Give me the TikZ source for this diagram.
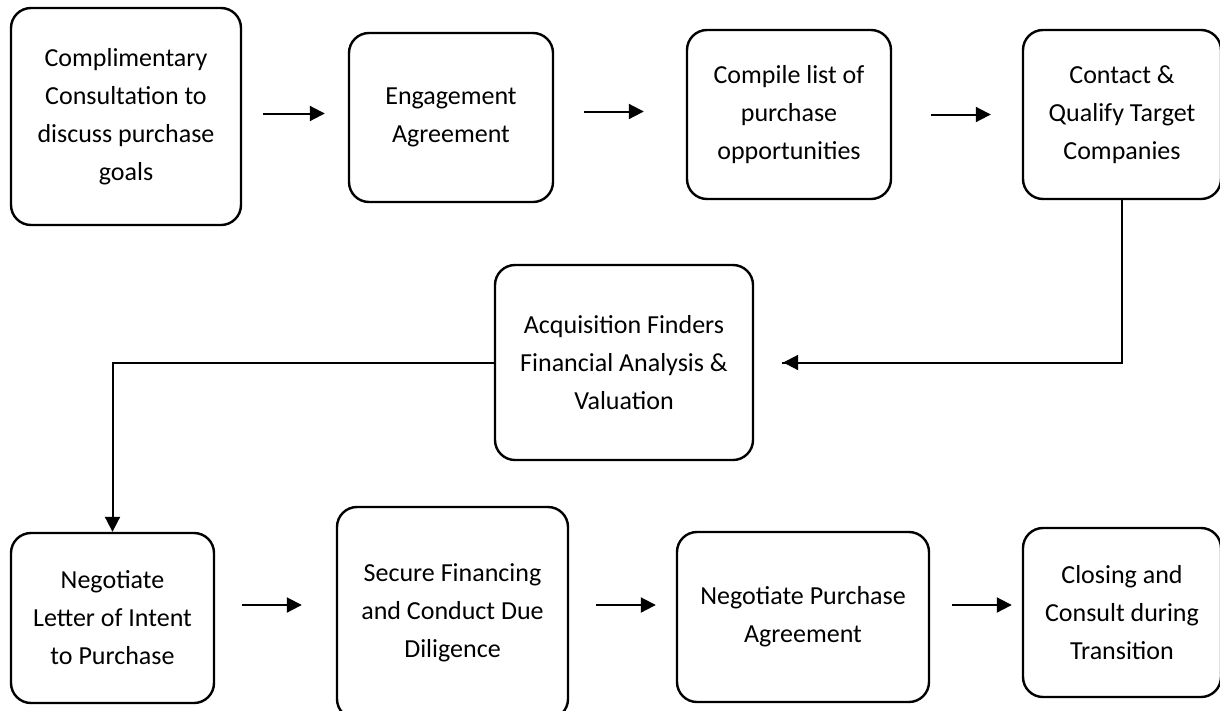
\documentclass[tikz,border=0pt]{standalone}
\usepackage{fontspec}
\setmainfont{Carlito}
\usetikzlibrary{arrows.meta}
\tikzset{
  stepbox/.style={draw, line width=2.4pt, rounded corners=20pt, align=center,
    inner sep=0pt, font=\fontsize{26pt}{38pt}\selectfont},
  flow/.style={line width=2pt, -{Triangle[length=15pt,width=15pt]}}
}
\begin{document}
\begin{tikzpicture}[x=1pt,y=-1pt]
      \useasboundingbox (0,0) rectangle (1220,710);
      \draw
        (126,116.5) node[stepbox, minimum width=230, minimum height=217] (consult){Complimentary\\Consultation to\\discuss purchase\\goals}
        (451,117.5) node[stepbox, minimum width=204, minimum height=169] (engage){Engagement\\Agreement}
        (789,114.5) node[stepbox, minimum width=204, minimum height=169] (compile){Compile list of\\purchase\\opportunities}
        (1122,114.5) node[stepbox, minimum width=198, minimum height=169] (contact){Contact \&\\Qualify Target\\Companies}
        (624,362.5) node[stepbox, minimum width=258, minimum height=195] (analysis){Acquisition Finders\\Financial Analysis \&\\Valuation}
        (112.5,618) node[stepbox, minimum width=203, minimum height=170] (loi){Negotiate\\Letter of Intent\\to Purchase}
        (452.5,613) node[stepbox, minimum width=231, minimum height=212] (finance){Secure Financing\\and Conduct Due\\Diligence}
        (803,617) node[stepbox, minimum width=252, minimum height=170] (purchase){Negotiate Purchase\\Agreement}
        (1122,612.5) node[stepbox, minimum width=198, minimum height=169] (closing){Closing and\\Consult during\\Transition};
      \begin{scope}[flow]
        \draw[shorten <=21pt, shorten >=23pt] ([yshift=3pt]consult.east) to ([yshift=3pt]consult.east -| engage.west);
        \draw[shorten <=30pt, shorten >=42pt] ([yshift=6pt]engage.east) to ([yshift=6pt]engage.east -| compile.west);
        \draw[shorten <=39pt, shorten >=31pt] (compile.east) to (compile.east -| contact.west);
        \draw[-, shorten >=-1pt] (contact.south) |- ([xshift=29pt]analysis.east);
        \draw[shorten >=29pt] ([xshift=29pt]analysis.east) to (analysis.east);
        \draw (analysis.west) -| (loi.north);
        \draw[shorten <=27pt, shorten >=34pt] ([yshift=13pt]loi.east) to ([yshift=13pt]loi.east -| finance.west);
        \draw[shorten <=27pt, shorten >=20pt] ([yshift=8pt]finance.east) to ([yshift=8pt]finance.east -| purchase.west);
        \draw[shorten <=22pt, shorten >=10pt] ([yshift=12pt]purchase.east) to ([yshift=12pt]purchase.east -| closing.west);
      \end{scope}
    \end{tikzpicture}
\end{document}
